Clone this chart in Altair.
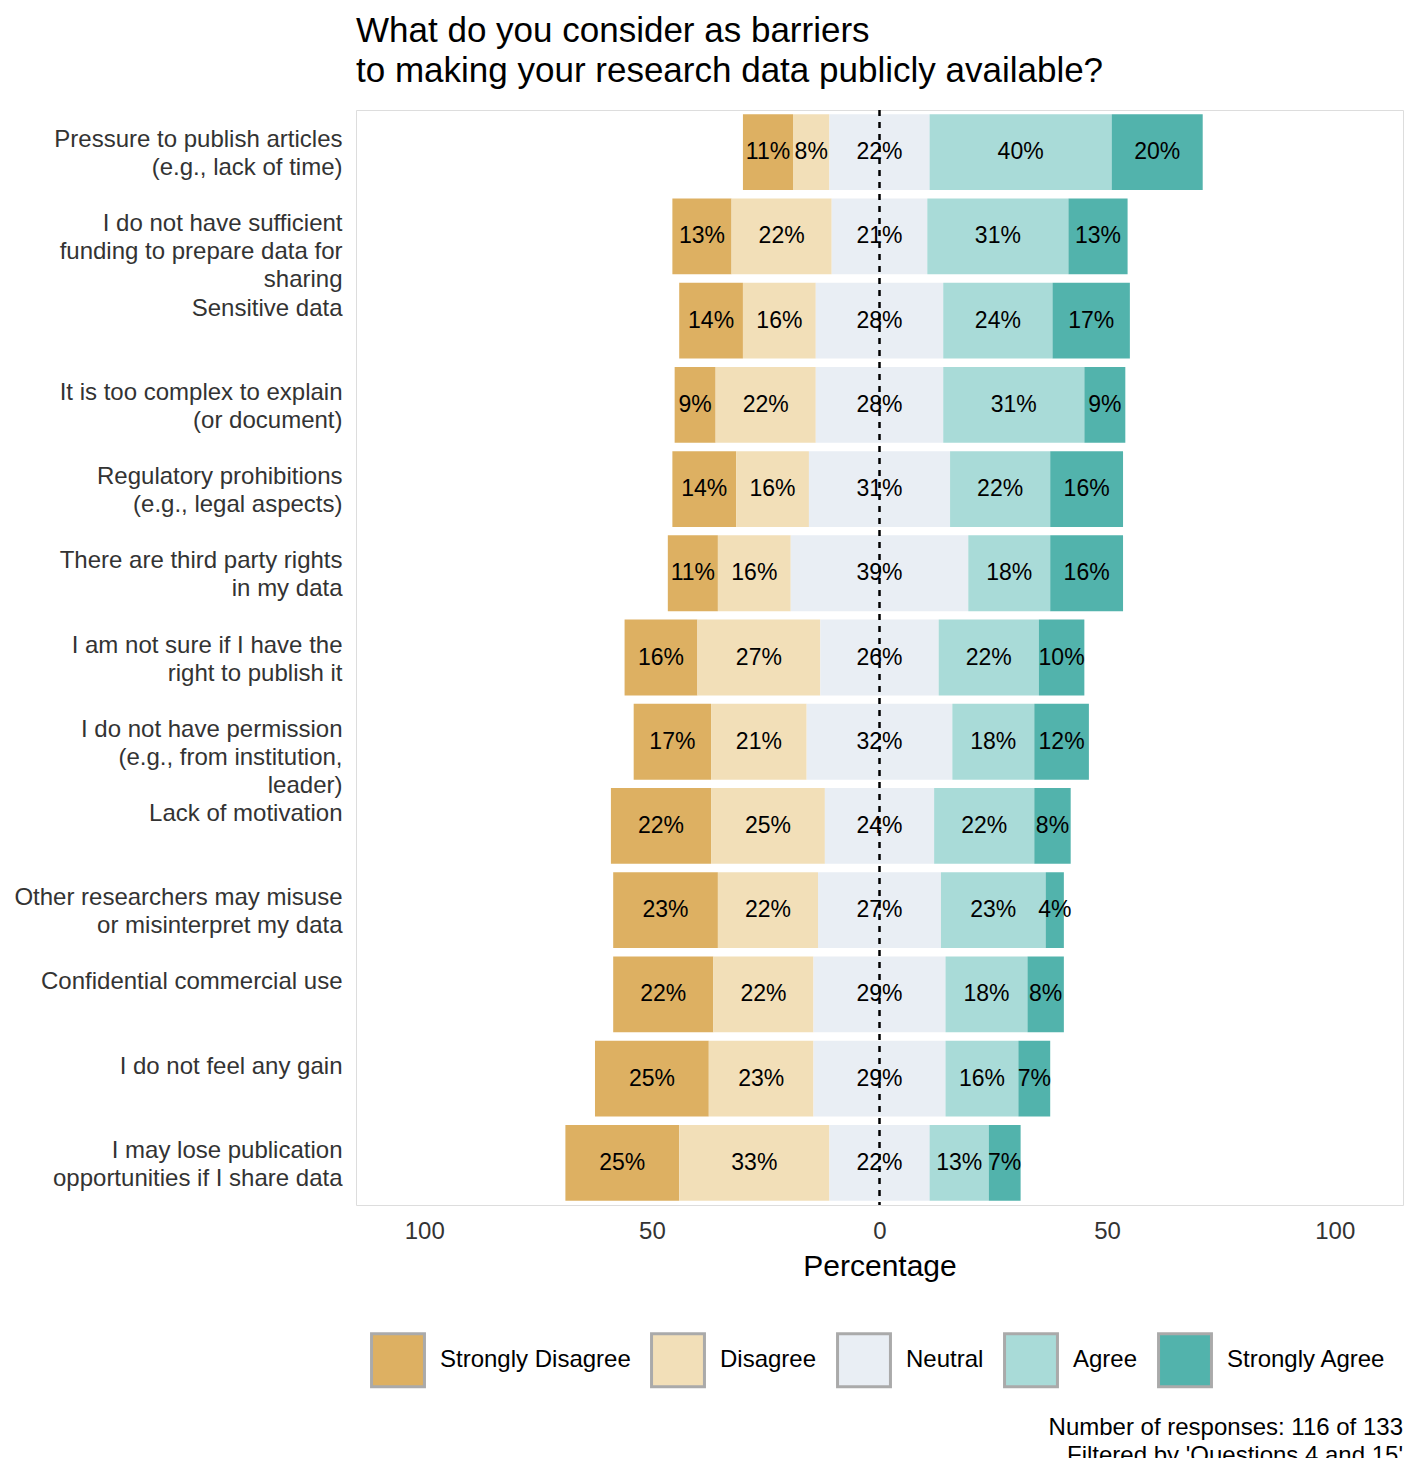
import pandas as pd
import altair as alt

questions = [
    "Pressure to publish articles\n(e.g., lack of time)",
    "I do not have sufficient\nfunding to prepare data for\nsharing",
    "Sensitive data",
    "It is too complex to explain\n(or document)",
    "Regulatory prohibitions\n(e.g., legal aspects)",
    "There are third party rights\nin my data",
    "I am not sure if I have the\nright to publish it",
    "I do not have permission\n(e.g., from institution,\nleader)",
    "Lack of motivation",
    "Other researchers may misuse\nor misinterpret my data",
    "Confidential commercial use",
    "I do not feel any gain",
    "I may lose publication\nopportunities if I share data",
]
levels = ["Strongly Disagree", "Disagree", "Neutral", "Agree", "Strongly Agree"]
colors = ["#ddb062", "#f2dfb8", "#e9eef4", "#a9dbd8", "#52b3ac"]

strongly_disagree = [11, 13, 14, 9, 14, 11, 16, 17, 22, 23, 22, 25, 25]
disagree = [8, 22, 16, 22, 16, 16, 27, 21, 25, 22, 22, 23, 33]
neutral = [22, 21, 28, 28, 31, 39, 26, 32, 24, 27, 29, 29, 22]
agree = [40, 31, 24, 31, 22, 18, 22, 18, 22, 23, 18, 16, 13]
strongly_agree = [20, 13, 17, 9, 16, 16, 10, 12, 8, 4, 8, 7, 7]

rows = []
for i, q in enumerate(questions):
    vals = [strongly_disagree[i], disagree[i], neutral[i], agree[i], strongly_agree[i]]
    start = -(vals[0] + vals[1] + vals[2] / 2)
    for lev, v in zip(levels, vals):
        rows.append({"q": q, "level": lev, "start": start, "end": start + v,
                     "mid": start + v / 2, "label": f"{v}%"})
        start += v
df = pd.DataFrame(rows)

FONT = "Liberation Sans"
xscale = alt.Scale(domain=[-115, 115], nice=False, zero=False)
yenc = alt.Y("q:N", sort=questions, title=None,
             axis=alt.Axis(labelExpr="split(datum.label, '\\n')", labelFontSize=24,
                           labelColor="#333333", labelFont=FONT, ticks=False,
                           domain=False, labelPadding=14, labelLineHeight=28,
                           labelLimit=0, labelBaseline="bottom"),
             scale=alt.Scale(paddingInner=0.1, paddingOuter=0.05))

bars = alt.Chart(df).mark_bar().encode(
    x=alt.X("start:Q", scale=xscale, title="Percentage",
            axis=alt.Axis(values=[-100, -50, 0, 50, 100], labelExpr="abs(datum.value)",
                          labelFontSize=24, titleFontSize=30, labelFont=FONT,
                          titleFont=FONT, titleFontWeight="normal", labelColor="#333333",
                          titleColor="black", grid=False, ticks=False, domain=False,
                          labelPadding=14, titlePadding=8)),
    x2="end:Q",
    y=yenc,
    color=alt.Color("level:N", sort=levels, title=None,
                    scale=alt.Scale(domain=levels, range=colors),
                    legend=alt.Legend(orient="none", legendX=14, legendY=1222,
                                      direction="horizontal",
                                      symbolType="square", symbolSize=2800,
                                      symbolStrokeColor="#aaaaaa", symbolStrokeWidth=3,
                                      labelFontSize=24, labelFont=FONT, labelColor="black",
                                      labelLimit=0, columnPadding=14, labelOffset=14)),
)

zero = alt.Chart(pd.DataFrame({"x": [0]})).mark_rule(
    color="black", strokeDash=[6, 6], strokeWidth=2.5).encode(x=alt.X("x:Q", scale=xscale))

texts = alt.Chart(df).mark_text(fontSize=23, font=FONT, color="black").encode(
    x=alt.X("mid:Q", scale=xscale), y=alt.Y("q:N", sort=questions), text="label:N")

caption = alt.Chart(pd.DataFrame({"t": ["Number of responses: 116 of 133",
                                        "Filtered by 'Questions 4 and 15'"],
                                  "yy": [1318, 1346]})).mark_text(
    align="right", fontSize=24, font=FONT, color="black").encode(
    x=alt.value(1047), y=alt.Y("yy:Q", scale=None), text="t:N")

chart = alt.layer(bars, zero, texts, caption).properties(
    width=1047, height=1095,
    title=alt.TitleParams(["What do you consider as barriers",
                           " to making your research data publicly available?"],
                          fontSize=35, font=FONT, fontWeight="normal", anchor="start",
                          frame="group", offset=20, color="black", lineHeight=40),
).configure_view(stroke="#bbaabb", strokeWidth=2.5).configure(background="white")

chart.save("out.html", embed_options={"renderer": "svg", "actions": False})
